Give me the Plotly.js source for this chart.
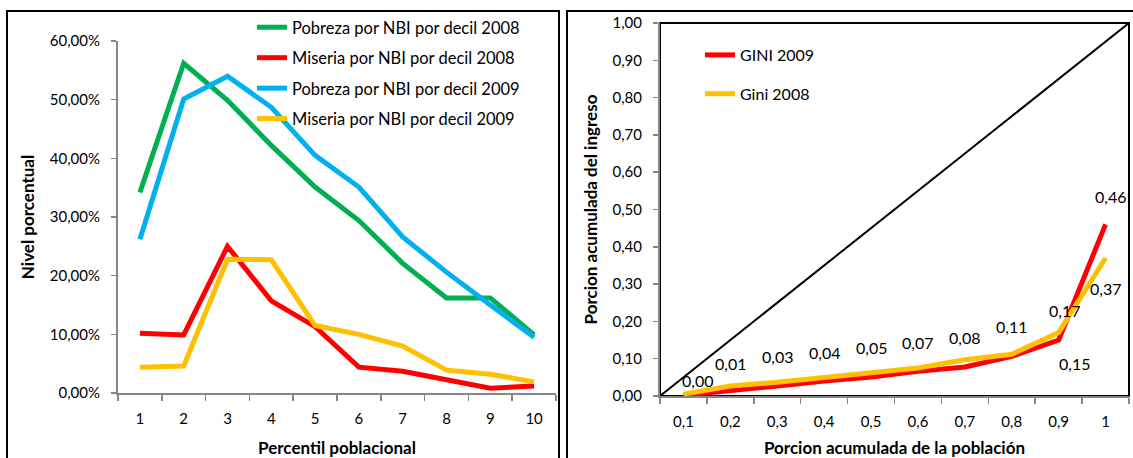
<!DOCTYPE html>
<html>
<head>
<meta charset="utf-8">
<script src="https://cdn.plot.ly/plotly-3.0.1.min.js"></script>
<style>html,body{margin:0;padding:0;background:#fff;}#chart{width:1133px;height:458px;}</style>
</head>
<body>
<div id="chart"></div>
<script>
// ---------- data: left chart (NBI by decile) ----------
const deciles = [1, 2, 3, 4, 5, 6, 7, 8, 9, 10];
const pobreza2008 = [0.342, 0.562, 0.499, 0.422, 0.351, 0.294, 0.221, 0.162, 0.162, 0.099];
const miseria2008 = [0.102, 0.099, 0.250, 0.157, 0.113, 0.044, 0.037, 0.023, 0.008, 0.012];
const pobreza2009 = [0.262, 0.501, 0.540, 0.487, 0.405, 0.351, 0.266, 0.206, 0.150, 0.095];
const miseria2009 = [0.044, 0.046, 0.228, 0.227, 0.115, 0.100, 0.080, 0.039, 0.032, 0.019];

// ---------- data: right chart (Lorenz / Gini) ----------
const poblacion = ["0,1", "0,2", "0,3", "0,4", "0,5", "0,6", "0,7", "0,8", "0,9", "1"];
const gini2009 = [0.002, 0.013, 0.027, 0.040, 0.051, 0.066, 0.078, 0.106, 0.150, 0.460];
const gini2008 = [0.005, 0.027, 0.037, 0.050, 0.060, 0.075, 0.097, 0.112, 0.170, 0.370];
const equalityX = [0, 1];
const equalityY = [0, 1];

// ---------- label placement (style, pixel offsets) ----------
const labels2009 = [[14, 15], [0, 28], [0, 29], [0, 29], [0, 29], [0, 29], [0, 29], [0, 30], [16, -23], [5, 28]];
const labels2008 = [null, null, null, null, null, null, null, null, [6, 22], [0, -31]];

const W = 1133, H = 458;
const px = x => x / W;
const py = y => 1 - y / H;
const FONT = "Lato, 'Open Sans', sans-serif";
const AX = '#868686';
const fmt = v => v.toFixed(2).replace('.', ',');

const traces = [
  {x: deciles, y: pobreza2008, name: 'Pobreza por NBI por decil 2008', type: 'scatter', mode: 'lines',
   line: {color: '#00B050', width: 5}, xaxis: 'x', yaxis: 'y', legend: 'legend', legendgroup: 'a'},
  {x: deciles, y: miseria2008, name: 'Miseria por NBI por decil 2008', type: 'scatter', mode: 'lines',
   line: {color: '#FF0000', width: 5}, xaxis: 'x', yaxis: 'y', legend: 'legend', legendgroup: 'b'},
  {x: deciles, y: pobreza2009, name: 'Pobreza por NBI por decil 2009', type: 'scatter', mode: 'lines',
   line: {color: '#00B0F0', width: 5}, xaxis: 'x', yaxis: 'y', legend: 'legend', legendgroup: 'c'},
  {x: deciles, y: miseria2009, name: 'Miseria por NBI por decil 2009', type: 'scatter', mode: 'lines',
   line: {color: '#FFC000', width: 5}, xaxis: 'x', yaxis: 'y', legend: 'legend', legendgroup: 'd'},
  {x: equalityX, y: equalityY, type: 'scatter', mode: 'lines', showlegend: false, hoverinfo: 'skip',
   line: {color: '#000', width: 2}, xaxis: 'x3', yaxis: 'y2'},
  {x: poblacion, y: gini2009, name: 'GINI 2009', type: 'scatter', mode: 'lines',
   line: {color: '#FF0000', width: 5}, xaxis: 'x2', yaxis: 'y2', legend: 'legend2', legendgroup: 'e', legendrank: 1},
  {x: poblacion, y: gini2008, name: 'Gini 2008', type: 'scatter', mode: 'lines',
   line: {color: '#FFC000', width: 5}, xaxis: 'x2', yaxis: 'y2', legend: 'legend2', legendgroup: 'f', legendrank: 2}
];

const annotations = [];
function addLabels(vals, offs) {
  vals.forEach((v, i) => {
    if (!offs[i]) return;
    // x given as the category index so that "1" is not read as index 1
    annotations.push({x: i, y: v, xref: 'x2', yref: 'y2', text: fmt(v), showarrow: false,
      xshift: offs[i][0], yshift: offs[i][1], font: {family: FONT, size: 16, color: '#000'}});
  });
}
addLabels(gini2009, labels2009);
addLabels(gini2008, labels2008);

const tickFont = {family: FONT, size: 15, color: '#000'};
const titleFont = {family: FONT, size: 17, color: '#000', weight: 700};

const layout = {
  width: W, height: H, margin: {l: 0, r: 0, t: 0, b: 0},
  paper_bgcolor: '#fff', plot_bgcolor: 'rgba(0,0,0,0)',
  separators: ',.',
  showlegend: true,
  xaxis: {domain: [px(118), px(556)], type: 'category', range: [-0.5, 9.5], tickson: 'boundaries',
    ticks: 'outside', ticklen: 6, tickwidth: 1.5, tickcolor: AX, showline: true, linecolor: AX, linewidth: 2,
    showgrid: false, zeroline: false, tickfont: tickFont, ticklabelstandoff: 11,
    title: {text: 'Percentil poblacional', font: titleFont, standoff: 16}, anchor: 'y', fixedrange: true},
  yaxis: {domain: [py(393), py(41)], range: [0, 0.6], dtick: 0.1, tickformat: '.2%',
    ticks: 'outside', ticklen: 5, tickwidth: 1.5, tickcolor: AX, showline: true, linecolor: AX, linewidth: 2,
    showgrid: false, zeroline: false, tickfont: tickFont, ticklabelstandoff: 8,
    title: {text: 'Nivel porcentual', font: titleFont, standoff: 11}, anchor: 'x', fixedrange: true},
  xaxis2: {domain: [px(660), px(1129)], type: 'category', range: [-0.5, 9.5], tickson: 'boundaries',
    ticks: 'outside', ticklen: 6, tickwidth: 1.5, tickcolor: AX, showline: true, linecolor: AX, linewidth: 2,
    showgrid: false, zeroline: false, tickfont: tickFont, ticklabelstandoff: 11,
    title: {text: 'Porcion acumulada de la población', font: titleFont, standoff: 16}, anchor: 'y2', fixedrange: true},
  xaxis3: {overlaying: 'x2', range: [0, 1], visible: false, anchor: 'y2', fixedrange: true},
  yaxis2: {domain: [py(396), py(23)], range: [0, 1], dtick: 0.1, tickformat: '.2f',
    ticks: 'outside', ticklen: 5, tickwidth: 1.5, tickcolor: AX, showline: true, linecolor: AX, linewidth: 2,
    showgrid: false, zeroline: false, tickfont: tickFont, ticklabelstandoff: 8,
    title: {text: 'Porcion acumulada del ingreso', font: titleFont, standoff: 11}, anchor: 'x2', fixedrange: true},
  legend: {x: px(252), y: py(10), xanchor: 'left', yanchor: 'top', bgcolor: 'rgba(0,0,0,0)',
    font: {family: FONT, size: 16.5, color: '#000'}, traceorder: 'grouped', tracegroupgap: 6, itemwidth: 30},
  legend2: {x: px(700), y: py(38), xanchor: 'left', yanchor: 'top', bgcolor: 'rgba(0,0,0,0)',
    font: {family: FONT, size: 16, color: '#000'}, traceorder: 'grouped', tracegroupgap: 15, itemwidth: 30},
  annotations: annotations,
  shapes: [
    {type: 'rect', xref: 'paper', yref: 'paper', x0: px(7), x1: px(559), y0: py(480), y1: py(11),
     line: {color: '#000', width: 2}, layer: 'below'},
    {type: 'rect', xref: 'paper', yref: 'paper', x0: px(567), x1: px(1145), y0: py(480), y1: py(11),
     line: {color: '#000', width: 2}, layer: 'below'},
    {type: 'rect', xref: 'x2 domain', yref: 'y2 domain', x0: 0, x1: 1, y0: 0, y1: 1,
     line: {color: '#000', width: 2}, layer: 'below'}
  ]
};

Plotly.newPlot('chart', traces, layout, {staticPlot: true, displayModeBar: false});
</script>
</body>
</html>
